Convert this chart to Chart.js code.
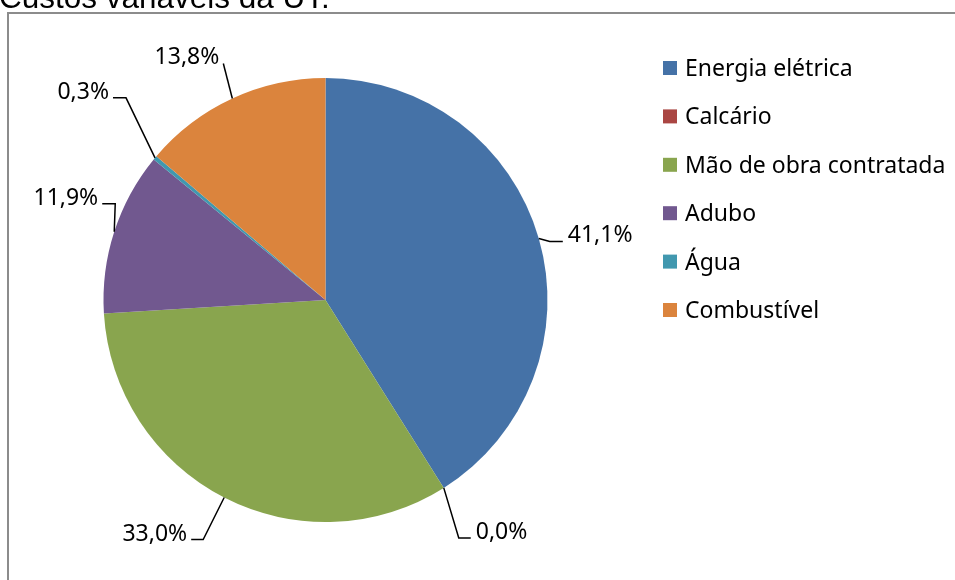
<!DOCTYPE html>
<html>
<head>
<meta charset="utf-8">
<script src="https://cdn.jsdelivr.net/npm/chart.js@4/dist/chart.umd.min.js"></script>
<style>
  body { margin: 0; background: #fff; width: 955px; height: 580px; overflow: hidden; position: relative; }
  #moldura { position: absolute; left: 7px; top: 12px; width: 1000px; height: 1000px;
             border-left: 2px solid #8c8c8c; border-top: 2px solid #8c8c8c; }
  #grafico { position: absolute; left: 0; top: 0; }
</style>
</head>
<body>
<div id="moldura"></div>
<canvas id="grafico" width="955" height="580"></canvas>
<script>
const titulo = 'Custos variáveis da UT:';
const categorias = ['Energia elétrica', 'Calcário', 'Mão de obra contratada', 'Adubo', 'Água', 'Combustível'];
const percentuais = [41.1, 0.0, 33.0, 11.9, 0.3, 13.8];
const cores = ['#4572A7', '#AA4643', '#89A54E', '#71588F', '#4198AF', '#DB843D'];

// linhas de chamada: cotovelo relativo à borda da fatia, traço horizontal e lado do texto
const chamadas = [
  { dx: 11, dy: 3, h: 13, lado: 'dir' },
  { dx: 15, dy: 50, h: 12, lado: 'dir' },
  { dx: -21, dy: 42, h: -12, lado: 'esq' },
  { dx: 1, dy: -28, h: -13, lado: 'esq' },
  { dx: -29, dy: -60, h: -13, lado: 'esq' },
  { dx: -9, dy: -35, h: 0, lado: 'esq' }
];

const fonteTexto = '23px "Noto Sans", sans-serif';

function formatar(v) {
  return v.toFixed(1).replace('.', ',') + '%';
}

const rotulos = {
  id: 'rotulos',
  afterDatasetsDraw(chart) {
    const ctx = chart.ctx;
    const meta = chart.getDatasetMeta(0);
    ctx.save();
    ctx.strokeStyle = '#000';
    ctx.lineWidth = 1.5;
    ctx.fillStyle = '#000';
    ctx.font = fonteTexto;
    ctx.textBaseline = 'alphabetic';
    meta.data.forEach((arc, i) => {
      const p = arc.getProps(['x', 'y', 'startAngle', 'endAngle', 'outerRadius'], true);
      const meio = (p.startAngle + p.endAngle) / 2;
      const ax = p.x + Math.cos(meio) * p.outerRadius;
      const ay = p.y + Math.sin(meio) * p.outerRadius;
      const c = chamadas[i];
      const ex = ax + c.dx, ey = ay + c.dy;
      const hx = ex + c.h;
      ctx.beginPath();
      ctx.moveTo(ax, ay);
      ctx.lineTo(ex, ey);
      ctx.lineTo(hx, ey);
      ctx.stroke();
      const dir = c.lado === 'dir';
      ctx.textAlign = dir ? 'left' : 'right';
      ctx.fillText(formatar(percentuais[i]), hx + (dir ? 5 : -4), ey + 1);
    });

    // legenda
    ctx.textAlign = 'left';
    categorias.forEach((nome, i) => {
      const cy = 68 + i * 48.4;
      ctx.fillStyle = cores[i];
      ctx.fillRect(663, cy - 7, 14, 14);
      ctx.fillStyle = '#000';
      ctx.fillText(nome, 685, cy + 8);
    });

    // título (cortado no topo)
    ctx.font = '31.5px "Liberation Sans", Arial, sans-serif';
    ctx.fillText(titulo, -1, 8);
    ctx.restore();
  }
};

new Chart(document.getElementById('grafico'), {
  type: 'pie',
  data: {
    labels: categorias,
    datasets: [{
      data: percentuais,
      backgroundColor: cores,
      borderWidth: 0
    }]
  },
  options: {
    responsive: false,
    animation: false,
    layout: { padding: { left: 103.5, top: 78, right: 407.5, bottom: 58 } },
    plugins: {
      legend: { display: false },
      tooltip: { enabled: false }
    }
  },
  plugins: [rotulos]
});
</script>
</body>
</html>
